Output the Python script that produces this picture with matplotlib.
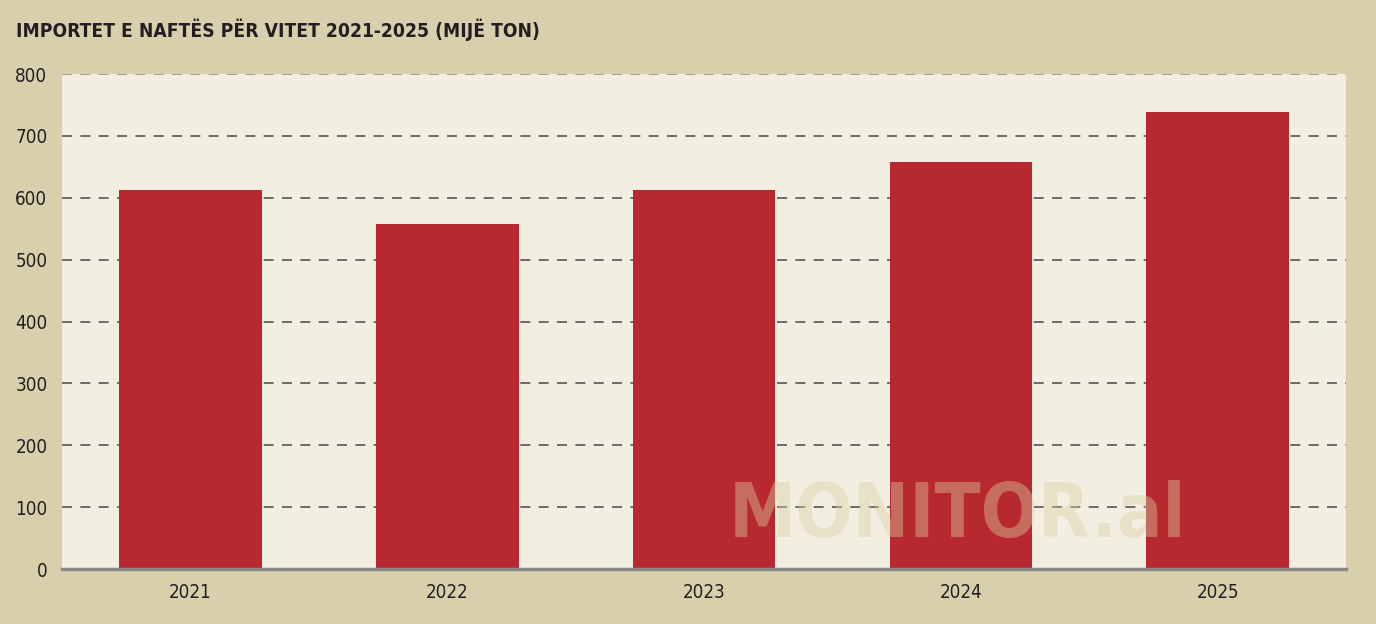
import matplotlib
matplotlib.use("Agg")
import matplotlib.pyplot as plt
from matplotlib import font_manager

years = ["2021", "2022", "2023", "2024", "2025"]
imports = [613, 558, 613, 657, 739]
yticks = [0, 100, 200, 300, 400, 500, 600, 700, 800]

FIG_BG = "#d8d0ad"
AX_BG = "#f2efe2"
BAR = "#b8282f"
TEXT = "#231f20"

# condensed face: DejaVu Sans Condensed ships with the DejaVu family
cond = font_manager.FontProperties(family="DejaVu Sans", stretch="condensed")
cond_bold = font_manager.FontProperties(family="DejaVu Sans", stretch="condensed", weight="bold")

fig = plt.figure(figsize=(13.76, 6.24), dpi=100, facecolor=FIG_BG)
ax = fig.add_axes([0.0451, 0.0881, 0.9331, 0.7933], facecolor=AX_BG)

x = list(range(len(years)))
ax.bar(x, imports, width=0.555, color=BAR, zorder=3)

ax.set_xlim(-0.5, len(years) - 0.5)
ax.set_ylim(0, 800)
ax.set_yticks(yticks)
ax.set_xticks(x)
ax.set_xticklabels(years)
ax.yaxis.grid(True, linestyle=(0, (6, 5)), color="#555555", linewidth=1.2, zorder=1)
# the 800 line is drawn lighter in the original
ax.get_ygridlines()[-1].set_color("#8f8f8a")

for s in ("top", "right", "left"):
    ax.spines[s].set_visible(False)
ax.spines["bottom"].set_color("#8a8a85")
ax.spines["bottom"].set_linewidth(2.5)
ax.spines["bottom"].set_zorder(4)
ax.tick_params(axis="y", length=0, pad=10.5)
ax.tick_params(axis="x", length=0, pad=10)
for lab in ax.get_xticklabels() + ax.get_yticklabels():
    lab.set_fontproperties(cond)
    lab.set_fontsize(13.5)
    lab.set_color(TEXT)

fig.text(0.0116, 0.952, "IMPORTET E NAFTËS PËR VITET 2021-2025 (MIJË TON)",
         fontproperties=cond_bold, fontsize=13.8, color=TEXT,
         ha="left", va="center")

fig.text(0.696, 0.172, "MONITOR.al", fontproperties=cond_bold, fontsize=54,
         color="#d8cfa2", alpha=0.42, ha="center", va="center", zorder=10)

fig.savefig("out.png", dpi=100, facecolor=FIG_BG)
